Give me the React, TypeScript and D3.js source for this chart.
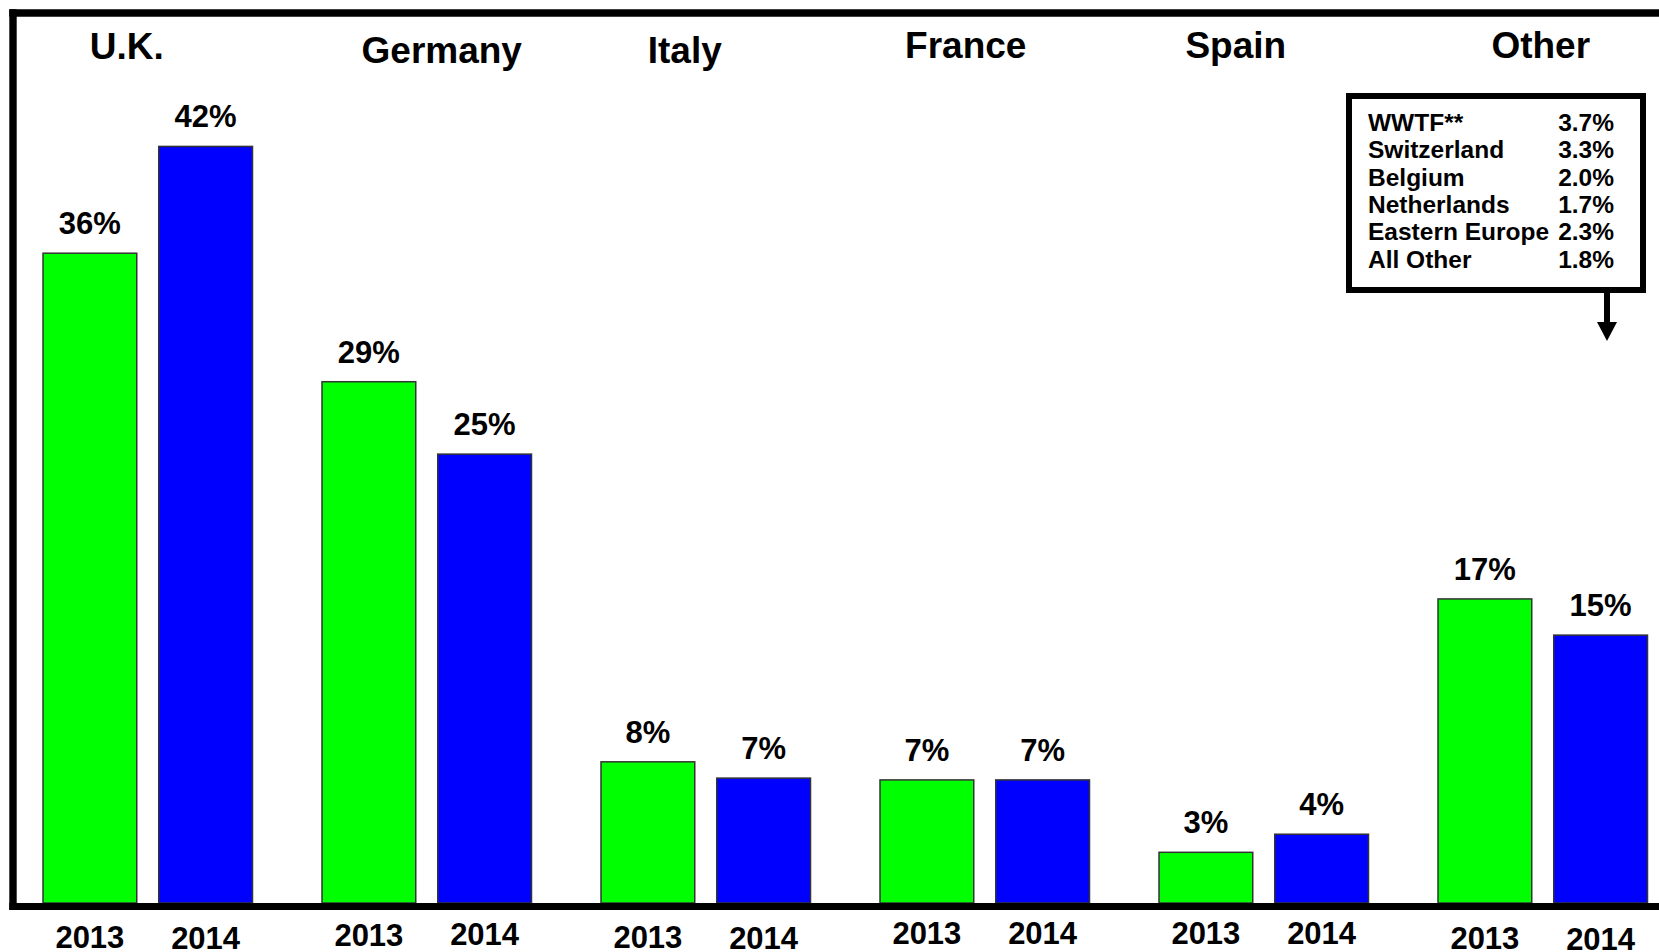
import React from "react";
import * as d3 from "d3";

// share of total, by region, 2013 vs 2014
const categories = ["U.K.", "Germany", "Italy", "France", "Spain", "Other"];
const years = ["2013", "2014"];
const values2013 = [35.9, 28.8, 7.8, 6.8, 2.8, 16.8];
const values2014 = [41.8, 24.8, 6.9, 6.8, 3.8, 14.8];

// breakdown of "Other" (2014)
const otherNames = ["WWTF**", "Switzerland", "Belgium", "Netherlands", "Eastern Europe", "All Other"];
const otherShares = ["3.7%", "3.3%", "2.0%", "1.7%", "2.3%", "1.8%"];

// small hand nudges so the labels sit where the original has them
const titleNudge = [
  { dx: -21, y: 59 },
  { dx: 15, y: 63 },
  { dx: -21, y: 63 },
  { dx: -19, y: 58 },
  { dx: -28, y: 58 },
  { dx: -2, y: 58 },
];
const yearBaseline = [
  [948, 949],
  [946, 945],
  [948, 949],
  [944, 944],
  [944, 944],
  [949, 950],
];

const W = 1659;
const H = 952;
const baseY = 903;
const FONT = "'Liberation Sans', Arial, Helvetica, sans-serif";

const App = () => {
  const x0 = d3.scaleBand<string>().domain(categories).range([43, 43 + 6 * 279]).padding(0);
  const x1 = d3.scaleBand<string>().domain(years).range([0, 209.5]).paddingInner(0.19).paddingOuter(0);
  const y = d3.scaleLinear().domain([0, 40]).range([baseY, baseY - 40 * 18.1]);

  const series = [values2013, values2014];
  const colors = ["#00ff00", "#0000ff"];

  // box for the "Other" breakdown
  const box = { x: 1349, y: 96, w: 294, h: 194 };
  const arrowX = 1607;

  return (
    <svg
      width={W}
      height={H}
      style={{ position: "absolute", left: 0, top: 0, background: "#fff" }}
      fontFamily={FONT}
      fontWeight="bold"
    >
      {/* bars */}
      {categories.map((c, i) => (
        <g key={c} transform={`translate(${x0(c)},0)`}>
          {years.map((yr, j) => {
            const v = series[j][i];
            const bx = x1(yr) as number;
            const bw = x1.bandwidth();
            return (
              <g key={yr}>
                <rect
                  x={bx}
                  y={y(v)}
                  width={bw}
                  height={baseY - y(v)}
                  fill={colors[j]}
                  stroke="#333"
                  strokeWidth={1.5}
                />
                <text x={bx + bw / 2} y={y(v) - 19} textAnchor="middle" fontSize={31} fill="#000">
                  {Math.round(v)}%
                </text>
                <text x={bx + bw / 2} y={yearBaseline[i][j]} textAnchor="middle" fontSize={31} fill="#000">
                  {yr}
                </text>
              </g>
            );
          })}
          <text
            x={104.75 + titleNudge[i].dx}
            y={titleNudge[i].y}
            textAnchor="middle"
            fontSize={37}
            fill="#000"
          >
            {c}
          </text>
        </g>
      ))}

      {/* frame: left, top and baseline */}
      <line x1={13} y1={9.3} x2={13} y2={910} stroke="#000" strokeWidth={7.4} />
      <line x1={9.3} y1={13} x2={W} y2={13} stroke="#000" strokeWidth={7.4} />
      <line x1={9.3} y1={906.5} x2={W} y2={906.5} stroke="#000" strokeWidth={7} />

      {/* breakdown box */}
      <rect x={box.x} y={box.y} width={box.w} height={box.h} fill="#fff" stroke="#000" strokeWidth={6} />
      {otherNames.map((n, i) => (
        <g key={n} fontSize={24.5} fill="#000">
          <text x={1368} y={131 + i * 27.3}>{n}</text>
          <text x={1614} y={131 + i * 27.3} textAnchor="end">{otherShares[i]}</text>
        </g>
      ))}
      <line x1={arrowX} y1={box.y + box.h} x2={arrowX} y2={326} stroke="#000" strokeWidth={6} />
      <path d={`M${arrowX - 10},322 L${arrowX + 10},322 L${arrowX},341 Z`} fill="#000" />
    </svg>
  );
};

export default App;
